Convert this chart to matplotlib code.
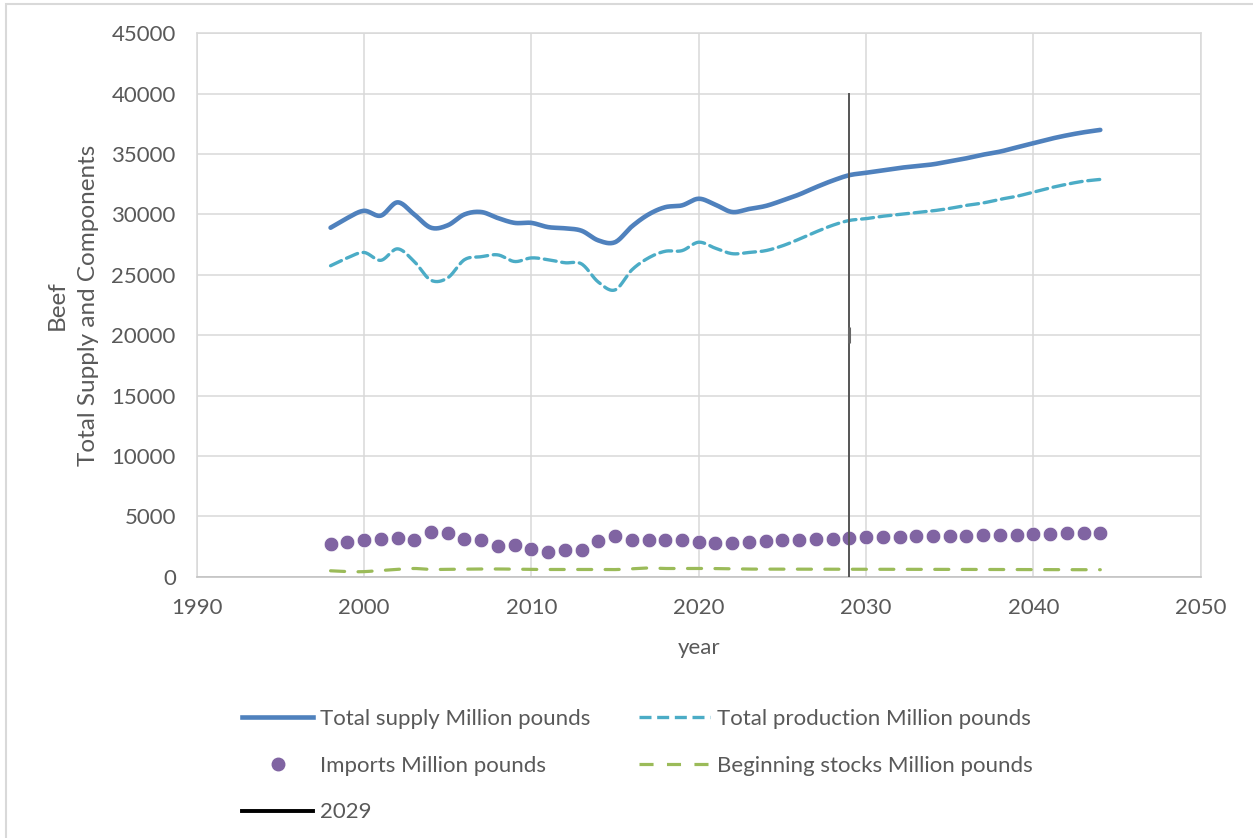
import numpy as np
import matplotlib
matplotlib.use('Agg')
import matplotlib.pyplot as plt
from matplotlib.lines import Line2D
from matplotlib.patches import Rectangle

plt.rcParams['font.family'] = ['Lato', 'DejaVu Sans']

years = np.arange(1998, 2045)

total_supply = [28900, 29700, 30300, 29900, 31000, 30000, 28900, 29100, 30000, 30200,
                29700, 29300, 29300, 28950, 28850, 28650, 27850, 27700, 29000, 30000,
                30600, 30750, 31300, 30800, 30200, 30450, 30700, 31150, 31650, 32250,
                32800, 33250, 33450, 33650, 33850, 34000, 34150, 34400, 34650, 34950,
                35200, 35550, 35900, 36250, 36550, 36800, 37000]

total_production = [25750, 26400, 26850, 26200, 27150, 26100, 24550, 24750, 26250, 26500,
                    26650, 26100, 26400, 26250, 26000, 25900, 24400, 23750, 25400, 26400,
                    26950, 27000, 27700, 27200, 26750, 26850, 27000, 27400, 27950, 28550,
                    29100, 29500, 29650, 29850, 30000, 30150, 30300, 30500, 30750, 30950,
                    31250, 31500, 31850, 32200, 32500, 32750, 32900]

imports = [2690, 2880, 3050, 3160, 3220, 3050, 3720, 3630, 3110, 3050,
           2550, 2640, 2330, 2050, 2250, 2250, 2970, 3380, 3020, 3020,
           3020, 3050, 2880, 2830, 2830, 2910, 2970, 3020, 3080, 3130,
           3160, 3220, 3270, 3300, 3300, 3330, 3360, 3380, 3410, 3430,
           3450, 3470, 3520, 3550, 3580, 3600, 3630]

beginning_stocks = [490, 420, 420, 520, 610, 680, 600, 610, 620, 640,
                    640, 620, 600, 600, 610, 610, 600, 590, 650, 720,
                    680, 680, 690, 670, 640, 630, 630, 630, 630, 630,
                    630, 630, 620, 620, 620, 610, 610, 610, 600, 600,
                    600, 590, 590, 590, 580, 580, 580]

marker_year = [2029, 2029, 2029]
marker_vals = [0, 20000, 40000]

labels = ['Total supply Million pounds', 'Total production Million pounds',
          'Imports Million pounds', 'Beginning stocks Million pounds', '2029']

TEXT = '#595959'
GRID = '#d9d9d9'
FS = 16


def smooth(x, y, n=16):
    # catmull-rom curve through the points, like a smoothed excel line
    pts = np.column_stack([x, y]).astype(float)
    P = np.vstack([pts[0], pts, pts[-1]])
    t = np.linspace(0, 1, n, endpoint=False)[:, None]
    out = []
    for i in range(1, len(P) - 2):
        p0, p1, p2, p3 = P[i - 1], P[i], P[i + 1], P[i + 2]
        seg = 0.5 * (2 * p1 + (-p0 + p2) * t + (2 * p0 - 5 * p1 + 4 * p2 - p3) * t ** 2
                     + (-p0 + 3 * p1 - 3 * p2 + p3) * t ** 3)
        out.append(seg)
    out.append(pts[-1:])
    c = np.vstack(out)
    return c[:, 0], c[:, 1]


fig = plt.figure(figsize=(12.53, 8.38), dpi=100)
ax = fig.add_axes([196.7 / 1253, 1 - 576.7 / 838, (1200.7 - 196.7) / 1253, (576.7 - 33.3) / 838])

sx, sy = smooth(years, total_supply)
ax.plot(sx, sy, color='#4f81bd', lw=3.3, solid_capstyle='round', zorder=4)
px, py = smooth(years, total_production)
ax.plot(px, py, color='#4bacc6', lw=2.4, dashes=(3.6, 1.7), dash_capstyle='round', zorder=4)
ax.plot(years, imports, 'o', color='#8064a2', ms=10.5, mec='white', mew=0.5, zorder=5)
bx, by = smooth(years, beginning_stocks)
ax.plot(bx, by, color='#9bbb59', lw=2.3, dashes=(4.4, 4.2), dash_capstyle='round', zorder=4)
ax.plot(marker_year, marker_vals, color='#555555', lw=1.4, zorder=6)
ax.plot(marker_year[1], marker_vals[1], marker='|', color='#666666', ms=11, mew=2.2, zorder=6)

ax.set_xlim(1990, 2050)
ax.set_ylim(0, 45000)
ax.set_xticks(np.arange(1990, 2051, 10))
ax.set_yticks(np.arange(0, 45001, 5000))
ax.grid(True, color=GRID, lw=1.1)
ax.set_axisbelow(True)
ax.tick_params(length=0, labelsize=FS, colors=TEXT)
ax.tick_params(axis='y', pad=15)
ax.tick_params(axis='x', pad=15)
for s in ax.spines.values():
    s.set_color(GRID)
    s.set_linewidth(1.1)
ax.spines['bottom'].set_color('#bfbfbf')

ax.set_xlabel('year', fontsize=FS, color=TEXT, labelpad=15)
ax.set_ylabel('Beef\nTotal Supply and Components', fontsize=17.5, color=TEXT, labelpad=9,
              linespacing=1.6)

handles = [
    Line2D([], [], color='#4f81bd', lw=3.3),
    Line2D([], [], ls='none', marker='o', color='#8064a2', ms=9),
    Line2D([], [], color='black', lw=2.8),
    Line2D([], [], color='#4bacc6', lw=2.4, dashes=(3.6, 1.7)),
    Line2D([], [], color='#9bbb59', lw=2.3, dashes=(4.4, 4.2)),
]
order = [labels[0], labels[2], labels[4], labels[1], labels[3]]
fig.legend(handles, order, loc='upper left', bbox_to_anchor=(242 / 1253, 1 - 709 / 838),
           ncol=2, frameon=False, fontsize=FS, labelcolor=TEXT, handlelength=3.2,
           handletextpad=0.3, columnspacing=2.2, labelspacing=1.2, borderpad=0,
           borderaxespad=0)

fig.patches.append(Rectangle((6 / 1253, -0.01), 1.0, 1.0 - 4 / 838 + 0.01, transform=fig.transFigure,
                             fill=False, edgecolor=GRID, lw=1.5))

fig.savefig('out.png', dpi=100)
